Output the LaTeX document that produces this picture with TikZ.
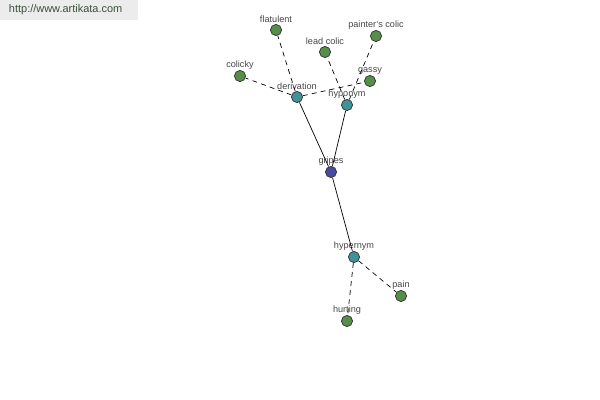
\documentclass[tikz,border=0pt]{standalone}
\usepackage{fontspec}
\setmainfont{Liberation Sans}
\usepackage{xcolor}
\definecolor{leafgrn}{RGB}{84,142,72}
\definecolor{reltea}{RGB}{64,146,150}
\definecolor{rootblu}{RGB}{72,74,160}
\definecolor{labgray}{RGB}{70,70,70}
\definecolor{urlgray}{RGB}{236,236,236}
\definecolor{urltext}{RGB}{60,80,60}
\usepackage{tikz}
\tikzset{
  word/.style={
    circle, draw=black!80, fill=leafgrn, minimum size=0.28cm,
    inner sep=0pt, line width=0.5pt,
    label={[font=\fontsize{6.5}{7}\selectfont, text=labgray,
            inner sep=0.5pt]above:#1}},
  rel/.style={word=#1, fill=reltea},
  root/.style={word=#1, fill=rootblu},
  solidlink/.style={draw=black, line width=0.5pt},
  dashlink/.style={draw=black, line width=0.5pt,
    dash pattern=on 3.5pt off 3pt},
}

\begin{document}
\begin{tikzpicture}[x=0.025cm, y=-0.025cm]
  \useasboundingbox (0,0) rectangle (600,400);
  \fill[urlgray] (0,0) rectangle (138,20);
  \node[anchor=west, font=\fontsize{7.8}{9}\selectfont, text=urltext]
    (url) at (4,10) {http://www.artikata.com};

  % relation nodes
  \node[root=gripes] (gripes) at (331,172) {};
  \node[rel=derivation] (deriv) at (297,97) {};
  \node[rel=hyponym] (hypo) at (347,105) {};
  \node[rel=hypernym] (hyper) at (354,257) {};

  % related words
  \node[word=flatulent] (flat) at (276,30) {};
  \node[word=lead colic] (lead) at (325,52) {};
  \node[word=painter`s colic] (paint) at (376,36) {};
  \node[word=gassy] (gassy) at (370,81) {};
  \node[word=colicky] (colicky) at (240,76) {};
  \node[word=pain] (pain) at (401,296) {};
  \node[word=hurting] (hurt) at (347,321) {};

  \draw[solidlink] (gripes) -- (deriv);
  \draw[solidlink] (gripes) -- (hypo);
  \draw[solidlink] (gripes) -- (hyper);
  \draw[dashlink] (deriv) -- (flat);
  \draw[dashlink] (deriv) -- (colicky);
  \draw[dashlink] (deriv) -- (gassy);
  \draw[dashlink] (hypo) -- (lead);
  \draw[dashlink] (hypo) -- (paint);
  \draw[dashlink] (hyper) -- (pain);
  \draw[dashlink] (hyper) -- (hurt);
\end{tikzpicture}
\end{document}
